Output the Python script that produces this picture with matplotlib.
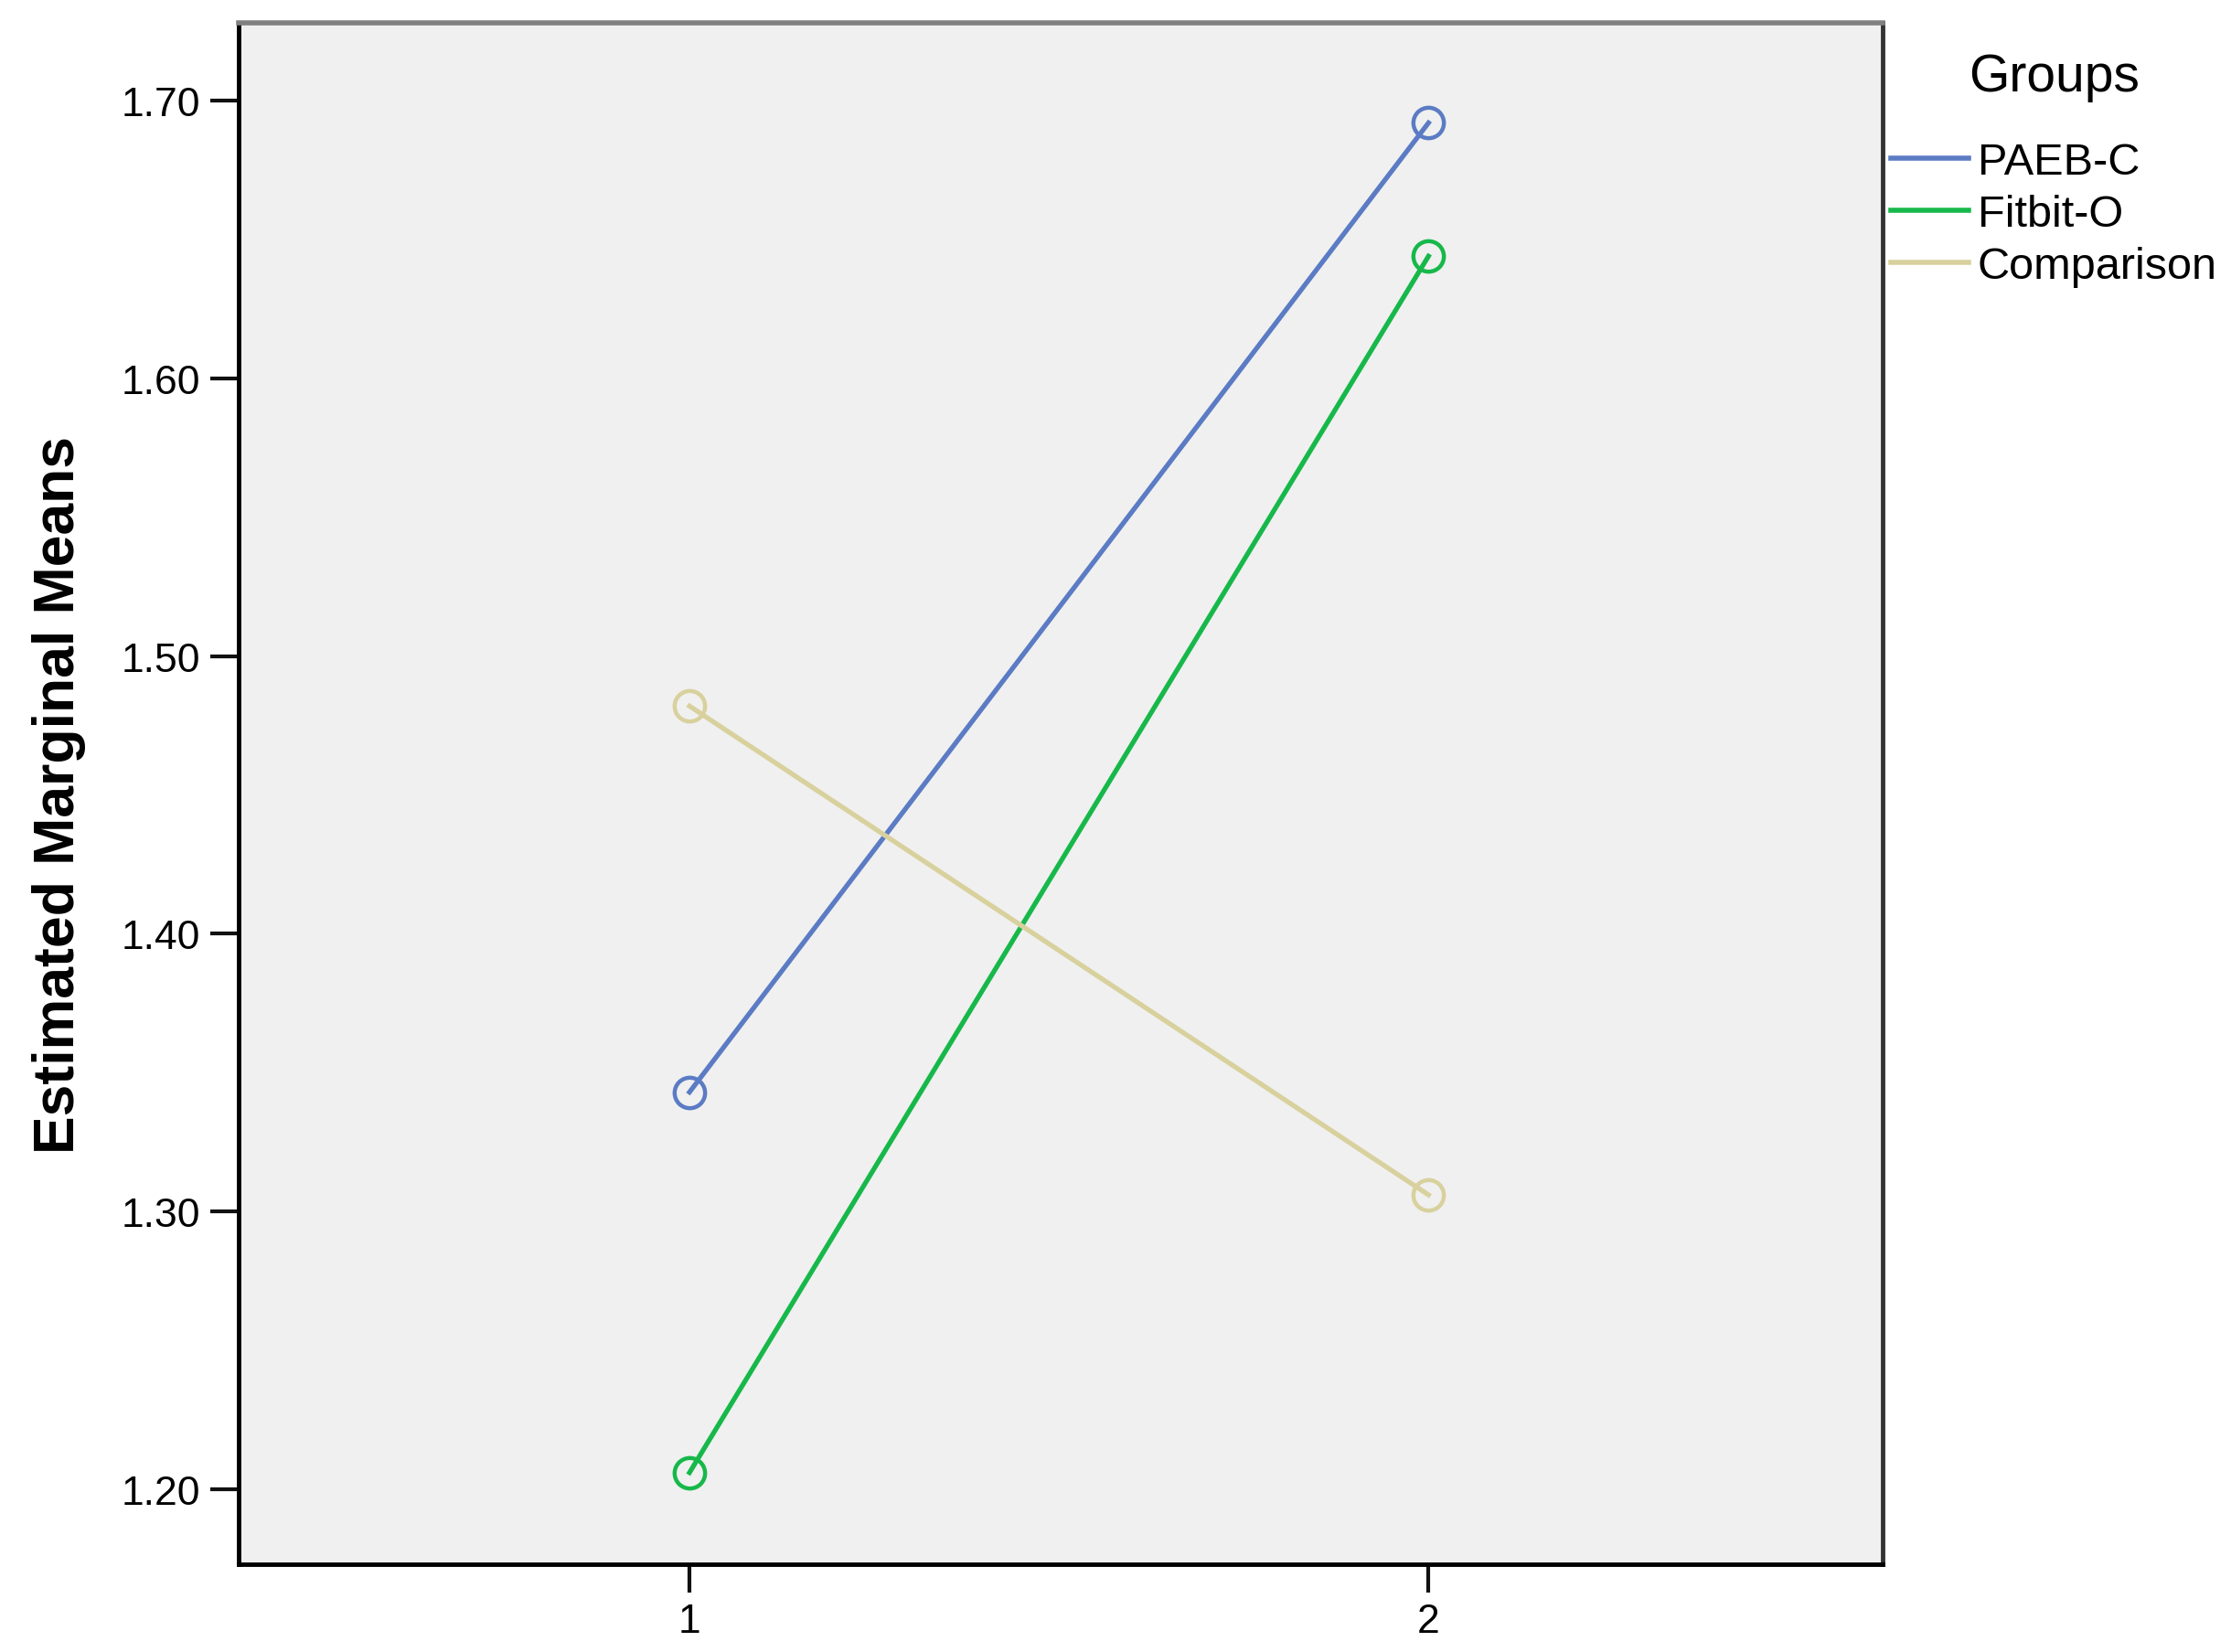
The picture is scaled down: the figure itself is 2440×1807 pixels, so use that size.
import matplotlib
matplotlib.use("Agg")
import matplotlib.pyplot as plt
from matplotlib.lines import Line2D

plt.rcParams['font.family'] = ['Liberation Sans', 'DejaVu Sans']

# data
x_levels = [1, 2]
groups = ["PAEB-C", "Fitbit-O", "Comparison"]
paeb_c = [1.343, 1.692]
fitbit_o = [1.206, 1.644]
comparison = [1.482, 1.306]
colors = ["#5b7bc4", "#17b84a", "#d8d19d"]
y_ticks = [1.20, 1.30, 1.40, 1.50, 1.60, 1.70]

fig = plt.figure(figsize=(24.4, 18.08), dpi=100)
ax = fig.add_axes([0.107, 0.0531, 0.737, 0.9325])
ax.set_facecolor("#f0f0f0")

series = [paeb_c, fitbit_o, comparison]
for vals, name, c in zip(series, groups, colors):
    ax.plot(x_levels, vals, color=c, lw=3.8, marker="o", markersize=24,
            markerfacecolor="none", markeredgecolor=c, markeredgewidth=3.2,
            label=name)

ax.set_xlim(0.39, 2.615)
ax.set_ylim(1.173, 1.728)
ax.set_xticks(x_levels)
ax.set_xticklabels([str(v) for v in x_levels])
ax.set_yticks(y_ticks)
ax.set_yticklabels([f"{v:.2f}" for v in y_ticks])
ax.tick_params(axis="both", length=22, width=3, labelsize=32, pad=8, color="#111111")

for side in ["left", "bottom"]:
    ax.spines[side].set_linewidth(3.5)
    ax.spines[side].set_color("black")
ax.spines["top"].set_linewidth(4)
ax.spines["top"].set_color("#808080")
ax.spines["right"].set_linewidth(3.5)
ax.spines["right"].set_color("#333333")

ax.set_ylabel("Estimated Marginal Means", fontsize=45, fontweight="bold", labelpad=28)

# legend built without markers
leg_handles = [Line2D([0], [0], color=c, lw=4) for c in colors]
leg = fig.legend(leg_handles, groups, loc="upper left",
                 bbox_to_anchor=(2068 / 2440, 1 - 58 / 1808),
                 frameon=False, fontsize=35, title="Groups", title_fontsize=41,
                 handlelength=1.75, handletextpad=0.2, labelspacing=0.24,
                 borderpad=0, borderaxespad=0)
leg._legend_box.sep = 32

fig.savefig("out.png", dpi=100, facecolor="white")
